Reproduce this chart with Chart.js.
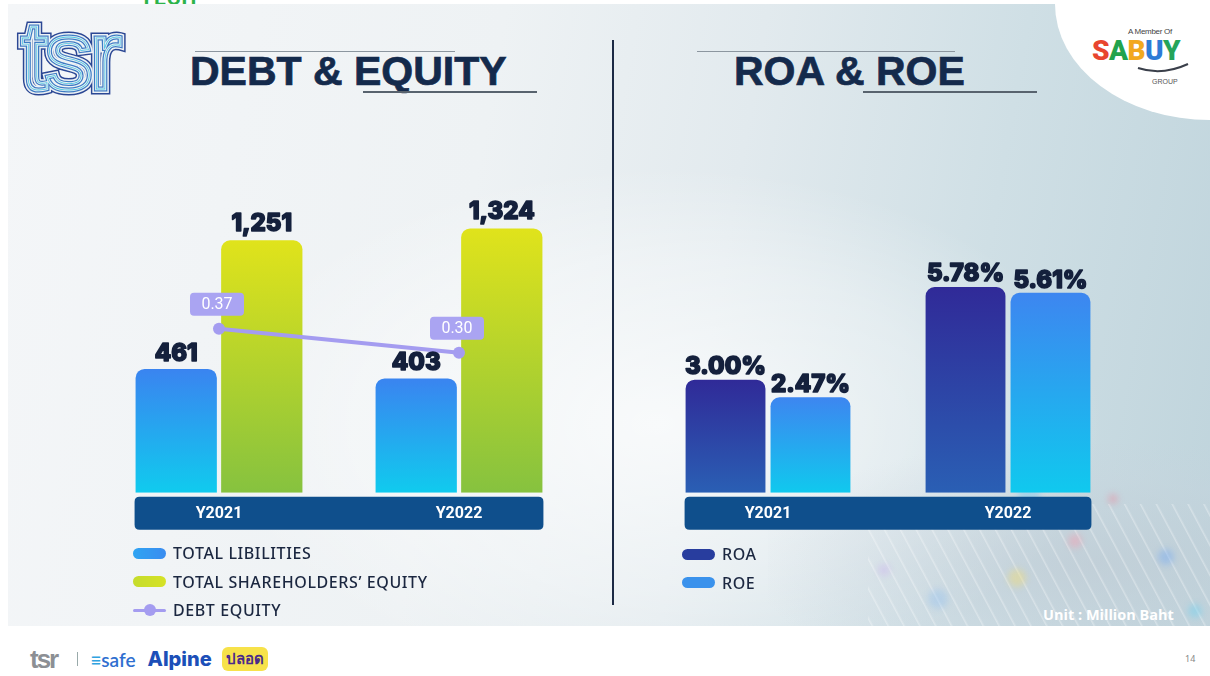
<!DOCTYPE html>
<html><head><meta charset="utf-8">
<script src="https://cdn.jsdelivr.net/npm/chart.js@4.4.0/dist/chart.umd.min.js"></script>
<style>
html,body{margin:0;padding:0;width:1210px;height:676px;overflow:hidden;background:#fff;font-family:Roboto,"Noto Sans",sans-serif;}
#tech{position:absolute;left:140px;top:-14px;font:700 21px Roboto,sans-serif;color:#2cb34a;letter-spacing:1px;}
#panel{position:absolute;left:8px;top:4px;width:1202px;height:622px;overflow:hidden;
 background:linear-gradient(100deg,#f4f6f8 0%,#eef2f4 38%,#e2eaee 58%,#cfdfe5 78%,#bfd4dc 100%);}
#panel .glow{position:absolute;left:200px;top:160px;width:900px;height:520px;border-radius:50%;
 background:radial-gradient(ellipse at center,rgba(255,255,255,0.75) 0%,rgba(255,255,255,0.35) 45%,rgba(255,255,255,0) 70%);}
#panel .shade{position:absolute;left:760px;top:440px;width:460px;height:200px;
 background:radial-gradient(ellipse at 70% 60%,rgba(190,200,210,0.55) 0%,rgba(200,210,220,0.25) 50%,rgba(255,255,255,0) 75%);}
#panel .streaks{position:absolute;left:860px;top:500px;width:360px;height:140px;
 background:repeating-linear-gradient(62deg,rgba(255,255,255,0) 0px,rgba(255,255,255,0) 11px,rgba(255,255,255,0.6) 12px,rgba(255,255,255,0) 14px);
 opacity:.55;}
.bok{position:absolute;border-radius:50%;filter:blur(3px);}
#corner{position:absolute;right:0;top:0;width:155px;height:116px;background:#fff;border-bottom-left-radius:155px 116px;}
.divider{position:absolute;left:612px;top:40px;width:2px;height:565px;background:#1c2a45;}
.title{position:absolute;font:700 41px "Liberation Sans",Arial,sans-serif;color:#142a4c;line-height:1;white-space:nowrap;
 -webkit-text-stroke:0.7px #142a4c;}
.tline{position:absolute;height:1px;background:#8c969f;}
.bline{position:absolute;height:2px;background:#58636e;}
canvas{position:absolute;}
.legend{position:absolute;}
.legend .row{position:absolute;left:0;height:20px;display:flex;align-items:center;white-space:nowrap;
 font:500 16px "Noto Sans",sans-serif;color:#1b2740;letter-spacing:0.6px;}
.legend .sw{width:33px;height:11px;border-radius:6px;margin-right:7px;position:relative;flex:none;}
#unit{position:absolute;left:1043px;top:605px;font:700 14.5px "Open Sans",sans-serif;color:#fff;}
#page{position:absolute;left:1185px;top:652px;font:400 9px "Noto Sans",sans-serif;color:#888;}
#sabuy .m{position:absolute;left:1128px;top:27px;font:400 8px "Liberation Sans",sans-serif;color:#444;letter-spacing:-0.3px;}
#sabuy .s{position:absolute;left:1092px;top:34px;font:900 28px Roboto,sans-serif;letter-spacing:-0.6px;}
#sabuy .g{position:absolute;left:1152px;top:78px;font:400 7px "Liberation Sans",sans-serif;color:#555;}
.tsr{position:absolute;left:21px;top:8px;font:400 96px "Liberation Sans",sans-serif;letter-spacing:-3px;line-height:1;color:transparent;}
#footer{position:absolute;left:30px;top:644px;height:30px;display:flex;align-items:center;}
</style></head><body>
<div id="tech">TECH</div>
<div id="panel">
 <div class="glow"></div>
 <div class="shade"></div>
 <div class="streaks"></div>
 <div class="bok" style="left:1010px;top:480px;width:22px;height:22px;background:rgba(120,200,240,0.45)"></div>
 <div class="bok" style="left:1060px;top:530px;width:14px;height:14px;background:rgba(250,150,170,0.4)"></div>
 <div class="bok" style="left:1000px;top:565px;width:18px;height:18px;background:rgba(240,220,120,0.45)"></div>
 <div class="bok" style="left:1150px;top:545px;width:16px;height:16px;background:rgba(120,170,240,0.45)"></div>
 <div class="bok" style="left:920px;top:585px;width:20px;height:20px;background:rgba(140,190,240,0.35)"></div>
 <div class="bok" style="left:1100px;top:490px;width:10px;height:10px;background:rgba(240,130,150,0.4)"></div>
 <div class="bok" style="left:1180px;top:600px;width:14px;height:14px;background:rgba(120,210,240,0.5)"></div>
 <div class="bok" style="left:870px;top:560px;width:12px;height:12px;background:rgba(200,170,240,0.35)"></div>
 <div id="corner"></div>
</div>

<div class="tsr" style="-webkit-text-stroke:11px #2b4794">tsr</div>
<div class="tsr" style="-webkit-text-stroke:8px #eef2f5">tsr</div>
<div class="tsr" style="-webkit-text-stroke:5px #3d7cc4">tsr</div>
<div class="tsr" style="-webkit-text-stroke:2.5px #eef2f5">tsr</div>
<div class="tsr" style="-webkit-text-stroke:0.8px #52c6e2">tsr</div>

<div class="tline" style="left:195px;top:51px;width:260px"></div>
<div class="title" style="left:190px;top:51px">DEBT &amp; EQUITY</div>
<div class="bline" style="left:363px;top:91px;width:174px"></div>

<div class="tline" style="left:697px;top:51px;width:258px"></div>
<div class="title" style="left:734px;top:51px">ROA &amp; ROE</div>
<div class="bline" style="left:863px;top:91px;width:174px"></div>

<div class="divider"></div>

<div id="sabuy">
 <div class="m">A Member Of</div>
 <div class="s"><span style="color:#e8452f">S</span><span style="color:#22a34c">A</span><span style="color:#f2a81f">B</span><span style="color:#2e7bd6">U</span><span style="color:#25a45a">Y</span></div>
 <svg style="position:absolute;left:1136px;top:62px" width="56" height="14"><path d="M2 6 Q 26 14 52 2" stroke="#3a3f4a" stroke-width="2" fill="none"/></svg>
 <div class="g">GROUP</div>
</div>

<canvas id="leftChart"></canvas>
<canvas id="rightChart"></canvas>

<div class="legend" id="leftLegend" style="left:133px;top:543px"></div>
<div class="legend" id="rightLegend" style="left:682px;top:544px"></div>

<div id="unit">Unit : Million Baht</div>
<div id="page">14</div>

<div id="footer">
 <span style="font:700 26px 'Liberation Sans',sans-serif;color:#8c8f94;letter-spacing:-2px">tsr</span>
 <span style="margin-left:20px;width:1px;height:14px;background:#9aa;display:inline-block"></span>
 <span style="margin-left:12px;font:600 19px Lato,sans-serif;color:#2f6fd0"><span style="color:#2fa3e0">&#8801;</span>safe</span>
 <span style="margin-left:12px;font:800 20px Inter,sans-serif;color:#1c4fb8">Alpine</span>
 <span style="margin-left:10px;font:900 15px 'Noto Sans CJK SC',sans-serif;background:#f7e24a;border-radius:6px;padding:0 4px;color:#4a2a8a">ปลอด</span>
</div>

<script>
// ---------- data ----------
const categories = ['Y2021', 'Y2022'];
const totalLiabilities = [461, 403];
const totalEquity = [1251, 1324];
const debtEquity = [0.37, 0.30];
const roa = [3.00, 5.78];
const roe = [2.47, 5.61];
const leftSeriesNames = ['TOTAL LIBILITIES', 'TOTAL SHAREHOLDERS\u2019 EQUITY', 'DEBT EQUITY'];
const rightSeriesNames = ['ROA', 'ROE'];

// ---------- layout ----------
function place(id, left, top, w, h) {
  const c = document.getElementById(id);
  c.style.left = left + 'px'; c.style.top = top + 'px';
  c.width = w; c.height = h; c.style.width = w + 'px'; c.style.height = h + 'px';
  return c;
}
const leftCanvas = place('leftChart', 89, 140, 500, 412);
const rightCanvas = place('rightChart', 630, 140, 520, 412);

function rr(ctx, x, y, w, h, r) {
  ctx.beginPath();
  ctx.moveTo(x + r, y); ctx.lineTo(x + w - r, y); ctx.quadraticCurveTo(x + w, y, x + w, y + r);
  ctx.lineTo(x + w, y + h - r); ctx.quadraticCurveTo(x + w, y + h, x + w - r, y + h);
  ctx.lineTo(x + r, y + h); ctx.quadraticCurveTo(x, y + h, x, y + h - r);
  ctx.lineTo(x, y + r); ctx.quadraticCurveTo(x, y, x + r, y); ctx.closePath();
}

function barGradient(top, bottom) {
  return (c) => {
    const chart = c.chart;
    if (!chart.chartArea || c.dataIndex === undefined) return top;
    const ys = chart.scales.y;
    const v = chart.data.datasets[c.datasetIndex].data[c.dataIndex];
    const y0 = ys.getPixelForValue(v), y1 = chart.chartArea.bottom;
    const g = chart.ctx.createLinearGradient(0, y0, 0, y1);
    g.addColorStop(0, top); g.addColorStop(1, bottom);
    return g;
  };
}

const bandPlugin = {
  id: 'band',
  beforeDraw(chart) {
    let l = Infinity, r = -Infinity;
    chart.data.datasets.forEach((d, i) => {
      const m = chart.getDatasetMeta(i);
      if (m.type !== 'bar') return;
      m.data.forEach(el => { l = Math.min(l, el.x - el.width / 2); r = Math.max(r, el.x + el.width / 2); });
    });
    const ctx = chart.ctx;
    ctx.save();
    ctx.fillStyle = '#0f4f8c';
    rr(ctx, l - 1, chart.chartArea.bottom + 4, r - l + 2, 33, 5);
    ctx.fill();
    ctx.restore();
  }
};

const labelPlugin = {
  id: 'vlabels',
  afterDatasetsDraw(chart) {
    const ctx = chart.ctx;
    chart.data.datasets.forEach((ds, i) => {
      const meta = chart.getDatasetMeta(i);
      meta.data.forEach((el, j) => {
        const txt = ds._fmt(ds.data[j]);
        ctx.save();
        if (meta.type === 'bar') {
          ctx.font = '800 24px Inter, Roboto, sans-serif';
          ctx.fillStyle = '#14203c';
          ctx.strokeStyle = '#14203c';
          ctx.lineWidth = 1.6;
          ctx.lineJoin = 'round';
          ctx.textAlign = 'center';
          ctx.textBaseline = 'alphabetic';
          ctx.strokeText(txt, el.x, el.y - ds._gap);
          ctx.fillText(txt, el.x, el.y - ds._gap);
        } else {
          const bw = 54, bh = 23;
          const cx = el.x - 2;
          const by = el.y - 13 - bh;
          ctx.fillStyle = '#aaa4f2';
          rr(ctx, cx - bw / 2, by, bw, bh, 4);
          ctx.fill();
          ctx.fillStyle = '#ffffff';
          ctx.font = '400 16px Roboto, sans-serif';
          ctx.textAlign = 'center';
          ctx.textBaseline = 'middle';
          ctx.fillText(txt, cx, by + bh / 2 + 1);
        }
        ctx.restore();
      });
    });
  }
};

const xAxis = {
  type: 'category',
  grid: { display: false, drawTicks: false },
  border: { display: false },
  ticks: { color: '#ffffff', font: { family: 'Roboto', weight: '700', size: 16 }, padding: 12 }
};

const commas = v => v.toLocaleString('en-US');
const LEFT_MIN = -300, RIGHT_MIN = -0.4;

new Chart(leftCanvas, {
  type: 'bar',
  data: {
    labels: categories,
    datasets: [
      { type: 'line', label: leftSeriesNames[2], data: debtEquity, yAxisID: 'y1', order: 0,
        borderColor: '#a49cf0', backgroundColor: '#a49cf0', borderWidth: 4,
        pointRadius: 6, pointBackgroundColor: '#a49cf0', pointBorderWidth: 0,
        _fmt: v => v.toFixed(2) },
      { label: leftSeriesNames[0], data: totalLiabilities, yAxisID: 'y', order: 1, base: LEFT_MIN,
        backgroundColor: barGradient('#3a84f0', '#10cbee'), borderRadius: 9,
        _fmt: commas, _gap: 8 },
      { label: leftSeriesNames[1], data: totalEquity, yAxisID: 'y', order: 1, base: LEFT_MIN,
        backgroundColor: barGradient('#e0e31b', '#86c23f'), borderRadius: 9,
        _fmt: commas, _gap: 9 }
    ]
  },
  options: {
    responsive: false, animation: false,
    layout: { padding: { left: 10, right: 10, top: 11, bottom: 16 } },
    datasets: { bar: { categoryPercentage: 0.713, barPercentage: 0.95 } },
    plugins: { legend: { display: false }, tooltip: { enabled: false } },
    scales: {
      x: xAxis,
      y: { display: false, min: LEFT_MIN, max: 1800 },
      y1: { display: false, min: -0.11, max: 0.89 }
    }
  },
  plugins: [bandPlugin, labelPlugin]
});

new Chart(rightCanvas, {
  type: 'bar',
  data: {
    labels: categories,
    datasets: [
      { label: rightSeriesNames[0], data: roa, base: RIGHT_MIN,
        backgroundColor: barGradient('#302a98', '#2a5fb4'), borderRadius: 9,
        _fmt: v => v.toFixed(2) + '%', _gap: 6 },
      { label: rightSeriesNames[1], data: roe, base: RIGHT_MIN,
        backgroundColor: barGradient('#3d86f0', '#10c9ee'), borderRadius: 9,
        _fmt: v => v.toFixed(2) + '%', _gap: 5 }
    ]
  },
  options: {
    responsive: false, animation: false,
    layout: { padding: { left: 18, right: 22, top: 11, bottom: 16 } },
    datasets: { bar: { categoryPercentage: 0.708, barPercentage: 0.94 } },
    plugins: { legend: { display: false }, tooltip: { enabled: false } },
    scales: {
      x: xAxis,
      y: { display: false, min: RIGHT_MIN, max: 9.87 }
    }
  },
  plugins: [bandPlugin, labelPlugin]
});

// ---------- legends ----------
function buildLegend(el, names, swatches) {
  names.forEach((n, i) => {
    const row = document.createElement('div');
    row.className = 'row';
    row.style.top = (i * 28.5) + 'px';
    const sw = document.createElement('div');
    sw.className = 'sw';
    if (swatches[i] === 'line') {
      sw.style.height = '3px'; sw.style.background = '#a49cf0'; sw.style.borderRadius = '2px';
      const dot = document.createElement('div');
      dot.style.cssText = 'position:absolute;left:11px;top:-4.5px;width:12px;height:12px;border-radius:50%;background:#a49cf0;';
      sw.appendChild(dot);
    } else {
      sw.style.background = swatches[i];
    }
    row.appendChild(sw);
    const t = document.createElement('span');
    t.textContent = n;
    row.appendChild(t);
    el.appendChild(row);
  });
}
buildLegend(document.getElementById('leftLegend'), leftSeriesNames,
  ['linear-gradient(90deg,#2fa4f2,#3a8cf0)', 'linear-gradient(90deg,#c5dc2c,#d6e226)', 'line']);
buildLegend(document.getElementById('rightLegend'), rightSeriesNames,
  ['#283d9e', '#3a92ec']);
</script>
</body></html>
